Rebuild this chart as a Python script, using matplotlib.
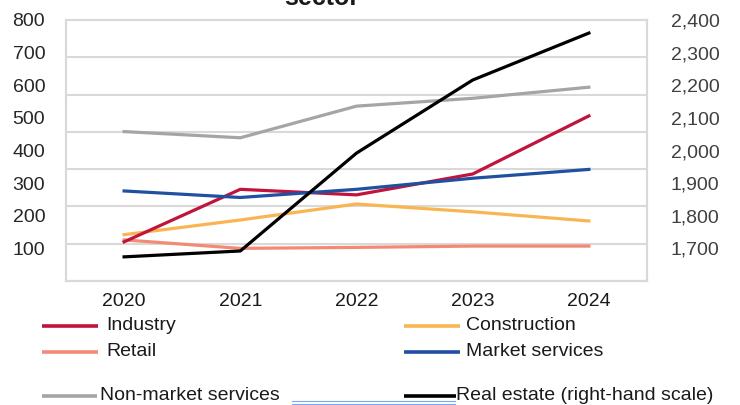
import matplotlib
matplotlib.use("Agg")
import matplotlib.pyplot as plt
from matplotlib.lines import Line2D
import numpy as np

plt.rcParams["font.family"] = ["Liberation Sans", "DejaVu Sans"]

years = ["2020", "2021", "2022", "2023", "2024"]
industry = [120, 281, 264, 328, 506]
construction = [142, 187, 236, 212, 184]
retail = [126, 100, 103, 107, 107]
market_services = [276, 256, 281, 315, 342]
non_market_services = [458, 439, 536, 560, 594]
real_estate = [1674, 1692, 1992, 2216, 2360]

left_ticks = [100, 200, 300, 400, 500, 600, 700, 800]
right_ticks = [1700, 1800, 1900, 2000, 2100, 2200, 2300, 2400]

colors = {
    "Industry": "#c0143c",
    "Construction": "#f9b551",
    "Retail": "#f48a76",
    "Market services": "#2050a0",
    "Non-market services": "#a5a5a5",
    "Real estate (right-hand scale)": "#000000",
}

fig = plt.figure(figsize=(7.4, 4.05), dpi=100)
ax = fig.add_axes([66 / 740, 1 - 281 / 405, 581 / 740, 261 / 405])
ax2 = ax.twinx()

x = np.arange(len(years))
lw = 2.3
ax.plot(x, retail, color=colors["Retail"], lw=lw, zorder=3)
ax.plot(x, construction, color=colors["Construction"], lw=lw, zorder=3)
ax.plot(x, industry, color=colors["Industry"], lw=lw, zorder=4)
ax.plot(x, market_services, color=colors["Market services"], lw=lw, zorder=4)
ax.plot(x, non_market_services, color=colors["Non-market services"], lw=lw, zorder=3)
ax2.plot(x, real_estate, color=colors["Real estate (right-hand scale)"], lw=lw, zorder=5)

ax.set_xlim(-0.5, 4.5)
ax.set_ylim(0, 800)
ax2.set_ylim(1600, 2400)

grid_c = "#d9d9d9"
ax.set_yticks(left_ticks)
ax.set_yticks(np.linspace(0, 800, 8), minor=True)
ax.grid(False)
ax.yaxis.grid(True, which="minor", color=grid_c, lw=1.5)
ax.set_axisbelow(True)
ax.set_xticks(x)
ax.set_xticklabels(years)
ax2.set_yticks(right_ticks)
ax2.set_yticklabels([f"{v:,}" for v in right_ticks])

for a in (ax, ax2):
    for s in a.spines.values():
        s.set_color(grid_c)
        s.set_linewidth(1.5)
fs = 14
ax.tick_params(axis="y", which="both", length=0, labelsize=fs, colors="#262626", pad=15)
ax.tick_params(axis="x", length=0, labelsize=fs, colors="#1a1a1a", pad=9)
ax2.tick_params(axis="y", length=0, labelsize=fs, colors="#404040", pad=17)

fig.text(322 / 740, 1 - 5 / 405, "sector", ha="center", va="baseline",
         fontsize=18, fontweight="bold", color="#1a1a1a")

# Legend, laid out by hand in two columns
entries = [
    ("Industry", 42, 98, 106, 326),
    ("Construction", 404, 460, 466, 326),
    ("Retail", 42, 98, 106, 352),
    ("Market services", 404, 460, 466, 352),
    ("Non-market services", 42, 97, 100, 396),
    ("Real estate (right-hand scale)", 404, 456, 456, 396),
]
H = 405.0
W = 740.0
for name, x0, x1, tx, ty in entries:
    fig.add_artist(Line2D([x0 / W, x1 / W], [1 - ty / H, 1 - ty / H],
                          color=colors[name], lw=2.6, solid_capstyle="butt"))
    fig.text(tx / W, 1 - ty / H, name, ha="left", va="center",
             fontsize=fs, color="#1a1a1a")

for yy in (400.5, 403.5):
    fig.add_artist(Line2D([292 / W, 455 / W], [1 - yy / H, 1 - yy / H],
                          color="#7ea6f0", lw=0.8))

fig.savefig("out.png", dpi=100)
